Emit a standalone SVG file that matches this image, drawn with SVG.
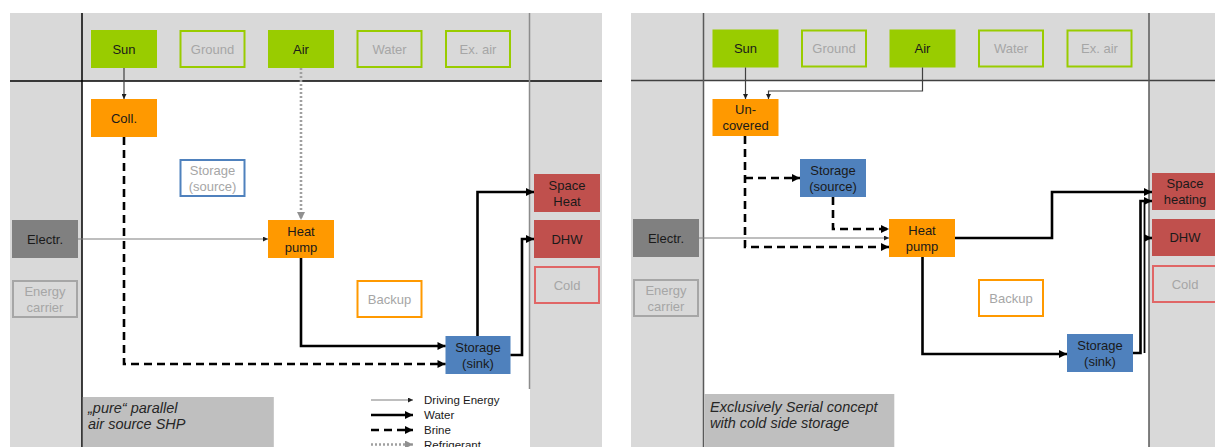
<svg xmlns="http://www.w3.org/2000/svg" width="1215" height="447" viewBox="0 0 1215 447">
<style>
text{font-family:"Liberation Sans",Arial,sans-serif;font-size:13px;text-anchor:middle;fill:#1a1a1a}
text.dim{fill:#a6a6a6}
text.lbl{font-size:14.5px;font-style:italic;text-anchor:start;fill:#262626}
text.leg{font-size:11.5px;text-anchor:start}
.bg{fill:#d9d9d9}
.green{fill:#99cc00}
.gout{fill:none;stroke:#99cc00;stroke-width:2}
.orange{fill:#ff9900}
.oout{fill:#ffffff;stroke:#ff9900;stroke-width:2}
.blue{fill:#4f81bd}
.bout{fill:#ffffff;stroke:#4f81bd;stroke-width:2}
.red{fill:#c0504d}
.rout{fill:#d9d9d9;stroke:#e06666;stroke-width:2}
.dark{fill:#808080}
.eout{fill:#d9d9d9;stroke:#a6a6a6;stroke-width:2}
.label{fill:#bfbfbf}
.drive{fill:none;stroke:#7f7f7f;stroke-width:1.2;marker-end:url(#ag)}
.sun{fill:none;stroke:#404040;stroke-width:1.2;marker-end:url(#at)}
.water{fill:none;stroke:#000;stroke-width:2.6;marker-end:url(#ah)}
.brine{fill:none;stroke:#000;stroke-width:2.6;stroke-dasharray:8 5;marker-end:url(#ah)}
.refr{fill:none;stroke:#a0a0a0;stroke-width:2.6;stroke-dasharray:2 2;marker-end:url(#ar)}
</style>
<defs>
<marker id="ah" viewBox="0 0 10 10" refX="10" refY="5" markerWidth="9" markerHeight="8" markerUnits="userSpaceOnUse" orient="auto"><path d="M0,0L10,5L0,10z" fill="#000"/></marker>
<marker id="at" viewBox="0 0 10 10" refX="10" refY="5" markerWidth="6" markerHeight="5" markerUnits="userSpaceOnUse" orient="auto"><path d="M0,0L10,5L0,10z" fill="#202020"/></marker>
<marker id="ag" viewBox="0 0 10 10" refX="10" refY="5" markerWidth="6" markerHeight="5" markerUnits="userSpaceOnUse" orient="auto"><path d="M0,0L10,5L0,10z" fill="#202020"/></marker>
<marker id="ar" viewBox="0 0 10 10" refX="10" refY="5" markerWidth="9" markerHeight="8" markerUnits="userSpaceOnUse" orient="auto"><path d="M0,0L10,5L0,10z" fill="#909090"/></marker>
</defs>

<!-- LEFT PANEL -->
<g id="panel-left">
<rect class="bg" x="10" y="13" width="592" height="434"/>
<rect x="82" y="81" width="448" height="366" fill="#ffffff"/>
<line x1="10" y1="81" x2="602" y2="81" stroke="#000" stroke-width="1.5"/>
<line x1="82" y1="13" x2="82" y2="447" stroke="#000" stroke-width="1.5"/>
<line x1="529.5" y1="13" x2="529.5" y2="389" stroke="#8c8c8c" stroke-width="1.5"/>
</g>
<g id="L-label"><rect class="label" x="82.8" y="397" width="191" height="50"/><text class="lbl" x="88" y="413">„pure“ parallel</text><text class="lbl" x="88" y="429">air source SHP</text></g>
<g id="L-sun"><rect class="green" x="91" y="30" width="66" height="38"/><text x="124" y="53.5">Sun</text></g>
<g id="L-ground"><rect class="gout" x="180.5" y="31" width="64" height="36"/><text class="dim" x="212.5" y="53.5">Ground</text></g>
<g id="L-air"><rect class="green" x="268" y="30" width="66" height="38"/><text x="301" y="53.5">Air</text></g>
<g id="L-water"><rect class="gout" x="357.5" y="31" width="64" height="36"/><text class="dim" x="389.5" y="53.5">Water</text></g>
<g id="L-exair"><rect class="gout" x="446" y="31" width="64" height="36"/><text class="dim" x="478" y="53.5">Ex. air</text></g>
<g id="L-coll"><rect class="orange" x="91" y="99" width="66" height="38"/><text x="124" y="122.5">Coll.</text></g>
<g id="L-storsrc"><rect class="bout" x="180.5" y="160" width="64" height="36"/><text class="dim" x="212.5" y="174.5">Storage</text><text class="dim" x="212.5" y="190.5">(source)</text></g>
<g id="L-hp"><rect class="orange" x="268" y="220" width="66" height="38"/><text x="301" y="235.5">Heat</text><text x="301" y="251.5">pump</text></g>
<g id="L-electr"><rect class="dark" x="12" y="220" width="66" height="38"/><text x="45" y="243.5">Electr.</text></g>
<g id="L-carrier"><rect class="eout" x="13" y="281" width="64" height="36"/><text class="dim" x="45" y="295.5">Energy</text><text class="dim" x="45" y="311.5">carrier</text></g>
<g id="L-backup"><rect class="oout" x="357.5" y="281" width="64" height="36"/><text class="dim" x="389.5" y="303.5">Backup</text></g>
<g id="L-storsink"><rect class="blue" x="445.5" y="336" width="65" height="38"/><text x="478" y="351.5">Storage</text><text x="478" y="367.5">(sink)</text></g>
<g id="L-space"><rect class="red" x="534" y="174" width="66" height="38"/><text x="567" y="189.5">Space</text><text x="567" y="205.5">Heat</text></g>
<g id="L-dhw"><rect class="red" x="534" y="220" width="66" height="38"/><text x="567" y="243.5">DHW</text></g>
<g id="L-cold"><rect class="rout" x="535" y="267" width="64" height="36"/><text class="dim" x="567" y="289.5">Cold</text></g>

<g id="L-connectors">
<path class="sun" d="M124,68V99"/>
<path class="refr" d="M301,68V220"/>
<path class="drive" d="M78,239H268"/>
<path class="water" d="M301,258V346H445.5"/>
<path class="brine" d="M124,137V364H445.5"/>
<path class="water" d="M477.5,336V192H534"/>
<path class="water" d="M510.5,355H522V239H534"/>
</g>
<g id="L-legend">
<path class="drive" d="M371,400H413"/>
<path class="water" d="M371,415H413"/>
<path class="brine" d="M371,430H413" stroke-dasharray="7 5"/>
<path class="refr" d="M371,444.5H413"/>
<text class="leg" x="424" y="404">Driving Energy</text>
<text class="leg" x="424" y="419">Water</text>
<text class="leg" x="424" y="434">Brine</text>
<text class="leg" x="424" y="449">Refrigerant</text>
</g>

<!-- RIGHT PANEL -->
<g id="panel-right">
<rect class="bg" x="631" y="13" width="584" height="434"/>
<rect x="703.5" y="80.5" width="445.5" height="366.5" fill="#ffffff"/>
<line x1="631" y1="80.5" x2="1215" y2="80.5" stroke="#404040" stroke-width="1.5"/>
<line x1="703.5" y1="13" x2="703.5" y2="447" stroke="#595959" stroke-width="1.5"/>
<line x1="1149" y1="13" x2="1149" y2="447" stroke="#595959" stroke-width="1.5"/>
</g>
<g id="R-label"><rect class="label" x="704.3" y="394" width="190" height="53"/><text class="lbl" x="710" y="412">Exclusively Serial concept</text><text class="lbl" x="710" y="428">with cold side storage</text></g>
<g id="R-sun"><rect class="green" x="712.5" y="29.5" width="66" height="38"/><text x="745.5" y="53">Sun</text></g>
<g id="R-ground"><rect class="gout" x="802" y="30.5" width="64" height="36"/><text class="dim" x="834" y="53">Ground</text></g>
<g id="R-air"><rect class="green" x="889.5" y="29.5" width="66" height="38"/><text x="922.5" y="53">Air</text></g>
<g id="R-water"><rect class="gout" x="979" y="30.5" width="64" height="36"/><text class="dim" x="1011" y="53">Water</text></g>
<g id="R-exair"><rect class="gout" x="1067.5" y="30.5" width="64" height="36"/><text class="dim" x="1099.5" y="53">Ex. air</text></g>
<g id="R-uncov"><rect class="orange" x="712.5" y="99" width="66" height="37"/><text x="745.5" y="114">Un-</text><text x="745.5" y="130">covered</text></g>
<g id="R-storsrc"><rect class="blue" x="800" y="159" width="66" height="38"/><text x="833" y="174.5">Storage</text><text x="833" y="190.5">(source)</text></g>
<g id="R-hp"><rect class="orange" x="889" y="219" width="66" height="38"/><text x="922" y="234.5">Heat</text><text x="922" y="250.5">pump</text></g>
<g id="R-electr"><rect class="dark" x="633" y="219" width="66" height="38"/><text x="666" y="242.5">Electr.</text></g>
<g id="R-carrier"><rect class="eout" x="634" y="280" width="64" height="36"/><text class="dim" x="666" y="294.5">Energy</text><text class="dim" x="666" y="310.5">carrier</text></g>
<g id="R-backup"><rect class="oout" x="979" y="280" width="64" height="36"/><text class="dim" x="1011" y="302.5">Backup</text></g>
<g id="R-storsink"><rect class="blue" x="1067" y="334" width="66" height="38"/><text x="1100" y="349.5">Storage</text><text x="1100" y="365.5">(sink)</text></g>
<g id="R-space"><rect class="red" x="1152" y="173" width="66" height="37"/><text x="1185" y="188">Space</text><text x="1185" y="204">heating</text></g>
<g id="R-dhw"><rect class="red" x="1152" y="219" width="66" height="37"/><text x="1185" y="242">DHW</text></g>
<g id="R-cold"><rect class="rout" x="1153" y="266" width="64" height="36"/><text class="dim" x="1185" y="288.5">Cold</text></g>

<g id="R-connectors">
<path class="sun" d="M745.5,67.5V99"/>
<path class="sun" d="M922.5,67.5V91H768.5V99"/>
<path class="drive" d="M699,238H889"/>
<path class="brine" d="M745,136V247H889"/>
<path class="brine" d="M745,178H800"/>
<path class="brine" d="M833,197V229H889"/>
<path class="water" d="M955,238H1052V192H1152"/>
<path class="water" d="M922.5,257V354H1067"/>
<path class="water" d="M1133,353H1140.5V201H1152"/>
<path d="M1144.5,201V353" fill="none" stroke="#000" stroke-width="1.8"/>
<path class="water" d="M1144.5,238H1152" stroke-width="2"/>
</g>
</svg>
